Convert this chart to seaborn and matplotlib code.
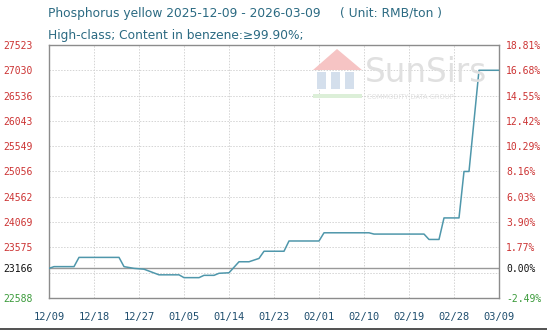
import matplotlib
matplotlib.use("Agg")
import matplotlib.pyplot as plt
from matplotlib.patches import Polygon, Rectangle
from matplotlib.lines import Line2D
import seaborn as sns
import pandas as pd

# ---- data ----
dates = ["2025-12-09", "2025-12-10", "2025-12-14", "2025-12-15", "2025-12-23",
         "2025-12-24", "2025-12-26", "2025-12-28", "2025-12-31", "2026-01-04",
         "2026-01-05", "2026-01-08", "2026-01-09", "2026-01-11", "2026-01-12",
         "2026-01-14", "2026-01-16", "2026-01-18", "2026-01-20", "2026-01-21",
         "2026-01-25", "2026-01-26", "2026-02-01", "2026-02-02", "2026-02-11",
         "2026-02-12", "2026-02-22", "2026-02-23", "2026-02-25", "2026-02-26",
         "2026-03-01", "2026-03-02", "2026-03-03", "2026-03-05", "2026-03-09"]
prices = [23166, 23200, 23200, 23380, 23380,
          23200, 23166, 23150, 23040, 23040,
          22985, 22985, 23030, 23030, 23070,
          23080, 23295, 23295, 23360, 23500,
          23500, 23700, 23700, 23860, 23860,
          23835, 23835, 23730, 23730, 24150,
          24150, 25056, 25056, 27030, 27030]

base_value = 23166
y_ticks = [22588, 23166, 23575, 24069, 24562, 25056, 25549, 26043, 26536, 27030, 27523]
y_labels_left = ["22588", "23166", "23575", "24069", "24562", "25056", "25549", "26043", "26536", "27030", "27523"]
y_labels_right = ["-2.49%", "0.00%", "1.77%", "3.90%", "6.03%", "8.16%", "10.29%", "12.42%", "14.55%", "16.68%", "18.81%"]
grid_extra = [23081.5]
x_ticks = ["2025-12-09", "2025-12-18", "2025-12-27", "2026-01-05", "2026-01-14", "2026-01-23",
           "2026-02-01", "2026-02-10", "2026-02-19", "2026-02-28", "2026-03-09"]
x_labels = ["12/09", "12/18", "12/27", "01/05", "01/14", "01/23", "02/01", "02/10", "02/19", "02/28", "03/09"]

title1 = "Phosphorus yellow 2025-12-09 - 2026-03-09     ( Unit: RMB/ton )"
title2 = "High-class; Content in benzene:\u226599.90%;"

df = pd.DataFrame({"date": pd.to_datetime(dates), "price": prices})

# ---- style ----
sns.set_theme(style="white")
plt.rcParams["font.family"] = ["DejaVu Sans"]

W, H = 547, 334
fig = plt.figure(figsize=(W / 100, H / 100), dpi=100)
fig.patch.set_facecolor("white")
ax = fig.add_axes([49 / W, 1 - 298 / H, (499 - 49) / W, (298 - 45) / H])
ax.set_facecolor("white")

# watermark
fig.patches.append(Polygon([[313 / W, 1 - 70 / H], [337 / W, 1 - 49 / H], [362 / W, 1 - 70 / H]],
                           closed=True, transform=fig.transFigure, facecolor="#f6c4c4",
                           edgecolor="none", zorder=0))
for xx in [317, 331, 345]:
    fig.patches.append(Rectangle((xx / W, 1 - 89 / H), 9 / W, 17 / H, transform=fig.transFigure,
                                 facecolor="#d4dfec", edgecolor="none", zorder=0))
fig.patches.append(Rectangle((313 / W, 1 - 98 / H), 49 / W, 4 / H, transform=fig.transFigure,
                             facecolor="#dcefd8", edgecolor="none", zorder=0))
fig.text(365 / W, 1 - 73 / H, "SunSirs", fontsize=23.5, color="#e0e0e0", va="center", ha="left",
         zorder=0)
fig.text(367 / W, 1 - 97 / H, "COMMODITY DATA GROUP", fontsize=4.8, color="#e0e0e0",
         va="center", ha="left", zorder=0)

# grid
for yv in y_ticks[2:-1] + grid_extra:
    ax.axhline(yv, color="#d4d4d4", lw=0.7, ls=(0, (1.5, 1.5)), zorder=1)
for xv in x_ticks[1:-1]:
    ax.axvline(pd.Timestamp(xv), color="#d4d4d4", lw=0.7, ls=(0, (1.5, 1.5)), zorder=1)
ax.axhline(base_value, color="#999999", lw=1.0, zorder=2)

sns.lineplot(data=df, x="date", y="price", ax=ax, color="#4f97ab", lw=1.1, zorder=3)

ax.set_xlim(pd.Timestamp(x_ticks[0]), pd.Timestamp(x_ticks[-1]))
ax.set_ylim(y_ticks[0], y_ticks[-1])
ax.set_xlabel("")
ax.set_ylabel("")
ax.set_xticks([pd.Timestamp(d) for d in x_ticks])
ax.set_xticklabels(x_labels, fontfamily="DejaVu Sans Mono", fontsize=7.5, color="#1f4e6e")
ax.set_yticks(y_ticks)
ax.set_yticklabels(y_labels_left, fontfamily="DejaVu Sans Mono", fontsize=7)
ax.tick_params(axis="x", length=0, pad=10)
ax.tick_params(axis="y", length=0, pad=11.5)
for s in ax.spines.values():
    s.set_color("#8c8c8c")
    s.set_linewidth(1.0)

ax2 = ax.twinx()
ax2.set_ylim(ax.get_ylim())
ax2.set_yticks(y_ticks)
ax2.set_yticklabels(y_labels_right, fontfamily="DejaVu Sans Mono", fontsize=7)
ax2.tick_params(axis="y", length=0, pad=5)
ax2.grid(False)
for s in ax2.spines.values():
    s.set_visible(False)

def color_for(lbl_idx):
    if lbl_idx == 0:
        return "#3a9a3a"
    if lbl_idx == 1:
        return "#111111"
    return "#cc3333"

for i, t in enumerate(ax.get_yticklabels()):
    t.set_color(color_for(i))
for i, t in enumerate(ax2.get_yticklabels()):
    t.set_color(color_for(i))

fig.text(48 / W, 1 - 13 / H, title1, fontsize=8.8, color="#2b6a82", va="center", ha="left")
fig.text(48 / W, 1 - 35 / H, title2, fontsize=8.8, color="#2b6a82", va="center", ha="left")

fig.add_artist(Line2D([0, 1], [1 - 329 / H, 1 - 329 / H], transform=fig.transFigure,
                      color="#333333", lw=1.2))

fig.savefig("out.png", dpi=100, facecolor="white")
